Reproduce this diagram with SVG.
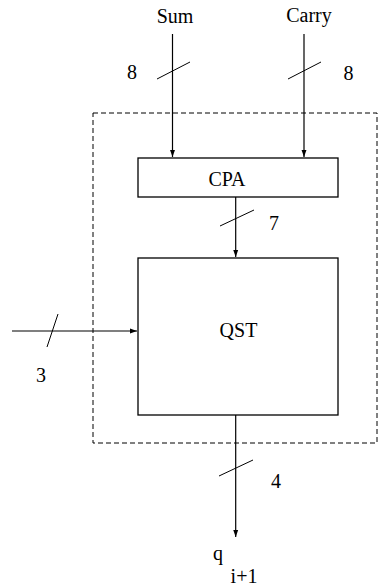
<svg xmlns="http://www.w3.org/2000/svg" width="378" height="586" viewBox="0 0 378 586">
<style>
text{font-family:'Liberation Serif','DejaVu Serif',serif;font-size:20px;fill:#000;text-anchor:middle}
.ln{stroke:#000;stroke-width:1.2;fill:none}
.sl{stroke:#000;stroke-width:1;fill:none}
.box{fill:#fff;stroke:#000;stroke-width:1.3}
</style>
<defs>
<marker id="ah" viewBox="0 0 10 10" refX="10" refY="5" markerWidth="7" markerHeight="7" markerUnits="userSpaceOnUse" orient="auto">
<path d="M0,1.5 L10,5 L0,8.5 Z" fill="#000"/>
</marker>
</defs>
<rect x="93" y="113" width="284" height="330" fill="none" stroke="#000" stroke-width="1" stroke-dasharray="5,3"/>
<g id="connectors">
<line class="ln" x1="172.5" y1="34" x2="172.5" y2="157" marker-end="url(#ah)"/>
<line class="sl" x1="157" y1="79" x2="190" y2="62"/>
<line class="ln" x1="304" y1="34" x2="304" y2="157" marker-end="url(#ah)"/>
<line class="sl" x1="288" y1="79" x2="321" y2="62"/>
<line class="ln" x1="235.7" y1="197" x2="235.7" y2="257" marker-end="url(#ah)"/>
<line class="sl" x1="220" y1="226" x2="254" y2="210"/>
<line class="ln" x1="12" y1="331" x2="137" y2="331" marker-end="url(#ah)"/>
<line class="sl" x1="47" y1="347" x2="58" y2="314"/>
<line class="ln" x1="235.7" y1="415" x2="235.7" y2="537" marker-end="url(#ah)"/>
<line class="sl" x1="219" y1="476" x2="253" y2="460"/>
</g>
<g id="labels">
<text x="175" y="23">Sum</text>
<text x="309" y="22">Carry</text>
<text x="132" y="79">8</text>
<text x="348.5" y="80">8</text>
<text x="274" y="230">7</text>
<text x="41" y="382">3</text>
<text x="276" y="488">4</text>
<text x="218" y="560">q</text>
<text x="244" y="583">i+1</text>
</g>
<g id="cpa">
<rect class="box" x="138" y="158" width="200" height="39"/>
<text x="227" y="186">CPA</text>
</g>
<g id="qst">
<rect class="box" x="138" y="258" width="200" height="157"/>
<text x="238.5" y="337">QST</text>
</g>
</svg>
